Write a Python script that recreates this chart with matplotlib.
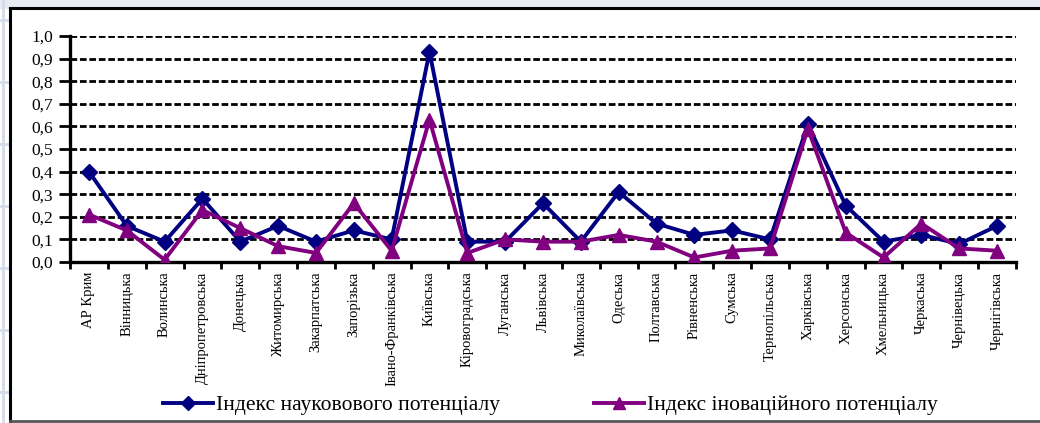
import numpy as np
import matplotlib
matplotlib.use('Agg')
import matplotlib.pyplot as plt
from matplotlib.lines import Line2D
from matplotlib.patches import Rectangle

plt.rcParams['font.family'] = ['Liberation Serif', 'DejaVu Serif']

regions = ['АР Крим', 'Вінницька', 'Волинська', 'Дніпропетровська', 'Донецька',
           'Житомирська', 'Закарпатська', 'Запорізька', 'Івано-Франківська', 'Київська',
           'Кіровоградська', 'Луганська', 'Львівська', 'Миколаївська', 'Одеська',
           'Полтавська', 'Рівненська', 'Сумська', 'Тернопільська', 'Харківська',
           'Херсонська', 'Хмельницька', 'Черкаська', 'Чернівецька', 'Чернігівська']

science_idx = [0.40, 0.16, 0.09, 0.28, 0.09, 0.16, 0.09, 0.14, 0.10, 0.93,
               0.09, 0.09, 0.26, 0.09, 0.31, 0.17, 0.12, 0.14, 0.10, 0.61,
               0.25, 0.09, 0.12, 0.08, 0.16]

innov_idx = [0.21, 0.14, 0.01, 0.23, 0.15, 0.07, 0.04, 0.26, 0.05, 0.63,
             0.04, 0.10, 0.09, 0.09, 0.12, 0.09, 0.02, 0.05, 0.06, 0.59,
             0.13, 0.02, 0.17, 0.06, 0.05]

yticks = [0.0, 0.1, 0.2, 0.3, 0.4, 0.5, 0.6, 0.7, 0.8, 0.9, 1.0]

W, H = 1040, 423
fig = plt.figure(figsize=(W / 100, H / 100), dpi=100)

# spreadsheet cells behind the chart object
cell = '#d5dbe8'
for yy in range(20, H, 62):
    fig.add_artist(Line2D([0, 9 / W], [1 - yy / H, 1 - yy / H], color=cell, lw=2))
fig.add_artist(Line2D([3 / W, 3 / W], [0, 1], color=cell, lw=2))
fig.add_artist(Rectangle((0, 1 - 8 / H), 1, 8 / H, color='#e6eaf2', zorder=0))
# chart object border
fig.add_artist(Line2D([10 / W, 10 / W], [1 - 421 / H, 1 - 8 / H], color='black', lw=2.2))
fig.add_artist(Line2D([10 / W, 1], [1 - 8 / H, 1 - 8 / H], color='black', lw=2.2))
fig.add_artist(Line2D([10 / W, 1], [1 - 421 / H, 1 - 421 / H], color='#555555', lw=2))

ax = fig.add_axes([70 / W, 1 - 262 / H, (1016 - 70) / W, (262 - 36) / H])

x = np.arange(len(regions))
l1, = ax.plot(x, science_idx, color='#000080', lw=2.8, marker='D', ms=8.5,
              label='Індекс науковового потенціалу', zorder=4)
l2, = ax.plot(x, innov_idx, color='#800080', lw=2.8, marker='^', ms=10,
              label='Індекс іноваційного потенціалу', zorder=5)

ax.set_xlim(-0.5, len(regions) - 0.5)
ax.set_ylim(0, 1.0)
ax.set_yticks(yticks)
ax.set_yticklabels([('%.1f' % v).replace('.', ',') for v in yticks], fontsize=12.5)
for v in yticks[1:]:
    ax.axhline(v, color='black', lw=2.0, ls=(0, (2.4, 1.0)), zorder=1)

ax.set_xticks(x)
ax.set_xticklabels(regions, rotation=90, fontsize=10.5)
ax.set_xticks(np.arange(len(regions) + 1) - 0.5, minor=True)
ax.tick_params(axis='x', which='major', length=0, pad=7)
ax.tick_params(axis='x', which='minor', length=5, width=2, direction='out')
ax.tick_params(axis='y', length=8, width=2.0, direction='out', pad=4)

for s in ['top', 'right']:
    ax.spines[s].set_visible(False)
ax.spines['left'].set_linewidth(2.4)
ax.spines['bottom'].set_linewidth(2.4)

# two legend entries placed separately along the bottom
leg_kw = dict(frameon=False, fontsize=15.5, handlelength=2.3, handletextpad=0.15,
              borderpad=0, borderaxespad=0, markerscale=0.85)
fig.legend(handles=[l1], loc='center left',
           bbox_to_anchor=(163 / W, 1 - 405 / H), **leg_kw)
fig.legend(handles=[l2], loc='center left',
           bbox_to_anchor=(594 / W, 1 - 405 / H), **leg_kw)

fig.savefig('out.png', dpi=100)
